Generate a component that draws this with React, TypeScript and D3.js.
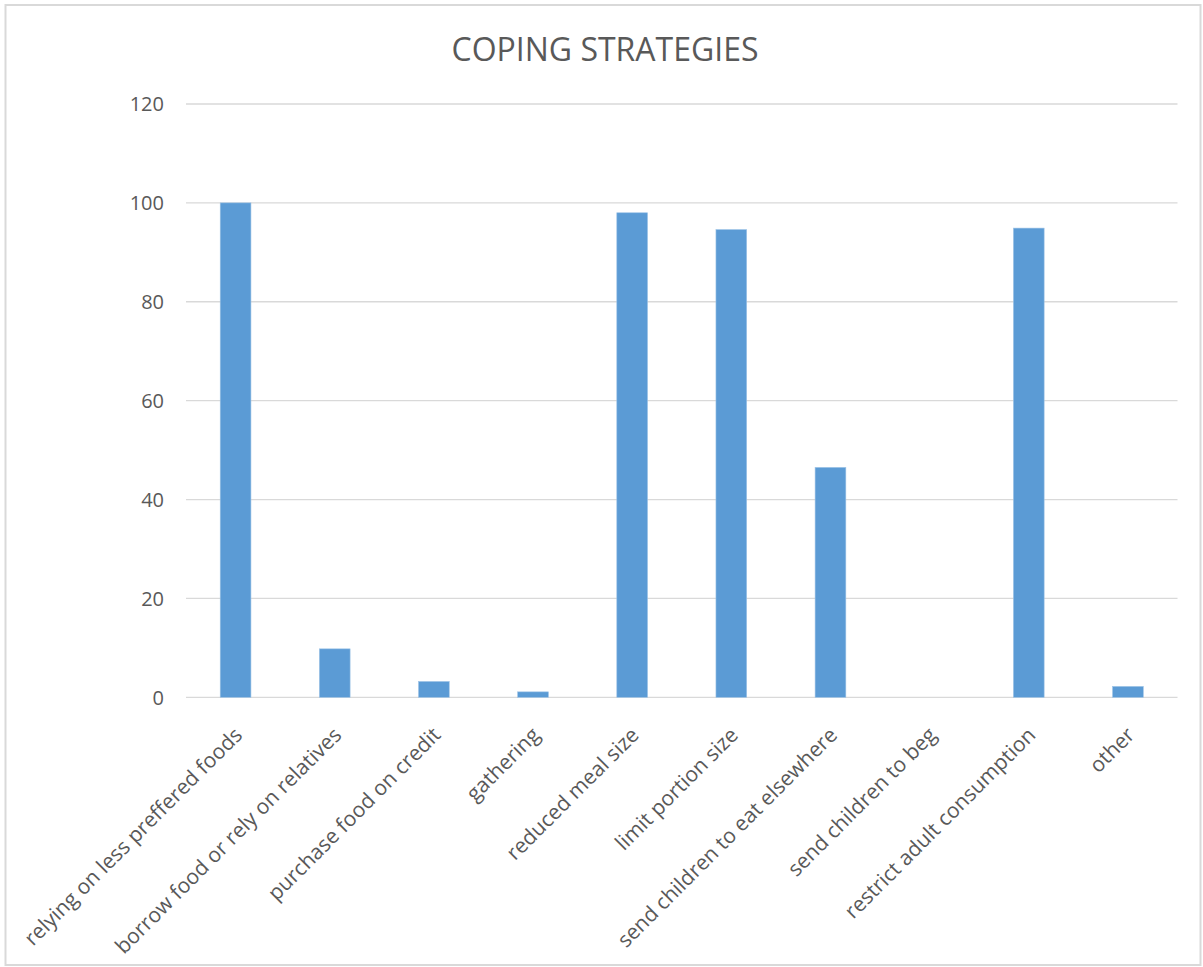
import React from "react";
import * as d3 from "d3";

// Household coping strategies, share of respondents
const categories: string[] = [
  "relying on less preffered foods",
  "borrow food or rely on relatives",
  "purchase food on credit",
  "gathering",
  "reduced meal size",
  "limit portion size",
  "send children to eat elsewhere",
  "send children to beg",
  "restrict adult consumption",
  "other",
];
const values: number[] = [100, 9.8, 3.2, 1.1, 98.0, 94.6, 46.5, 0, 94.9, 2.2];
const yTicks: number[] = [0, 20, 40, 60, 80, 100, 120];
const title = "COPING STRATEGIES";

const W = 1203;
const H = 967;
const plot = { left: 186, right: 1177.5, top: 104, bottom: 697.3 };
const FONT = "'Open Sans', 'Noto Sans', sans-serif";
const TEXT = "#595959";

export default function App() {
  const x = d3
    .scaleBand<string>()
    .domain(categories)
    .range([plot.left, plot.right])
    .paddingInner(0.69)
    .paddingOuter(0.345);
  const y = d3.scaleLinear().domain([0, 120]).range([plot.bottom, plot.top]);

  return (
    <svg
      width={W}
      height={H}
      style={{ position: "absolute", left: 0, top: 0, background: "#fff" }}
      fontFamily={FONT}
    >
      <rect x={0} y={0} width={W} height={H} fill="#fff" />
      <rect x={5.5} y={5} width={1195} height={960} fill="none" stroke="#d9d9d9" strokeWidth={2} />

      <text x={605} y={61} textAnchor="middle" fontSize={32} fill={TEXT}>
        {title}
      </text>

      {yTicks.map((t) => (
        <g key={t}>
          <line
            x1={plot.left}
            x2={plot.right}
            y1={y(t)}
            y2={y(t)}
            stroke="#d9d9d9"
            strokeWidth={1.3}
          />
          <text x={164} y={y(t)} dy="0.36em" textAnchor="end" fontSize={20} fill={TEXT}>
            {t}
          </text>
        </g>
      ))}

      {categories.map((c, i) => (
        <rect
          key={c}
          x={x(c)!}
          y={y(values[i])}
          width={x.bandwidth()}
          height={y(0) - y(values[i])}
          fill="#5b9bd5"
          stroke="#9dc3e6"
          strokeWidth={0.6}
        />
      ))}

      {categories.map((c) => {
        const cx = x(c)! + x.bandwidth() / 2;
        return (
          <text
            key={c}
            transform={`translate(${cx + 8},${plot.bottom + 39}) rotate(-45)`}
            textAnchor="end"
            fontSize={21}
            fill={TEXT}
          >
            {c}
          </text>
        );
      })}
    </svg>
  );
}
